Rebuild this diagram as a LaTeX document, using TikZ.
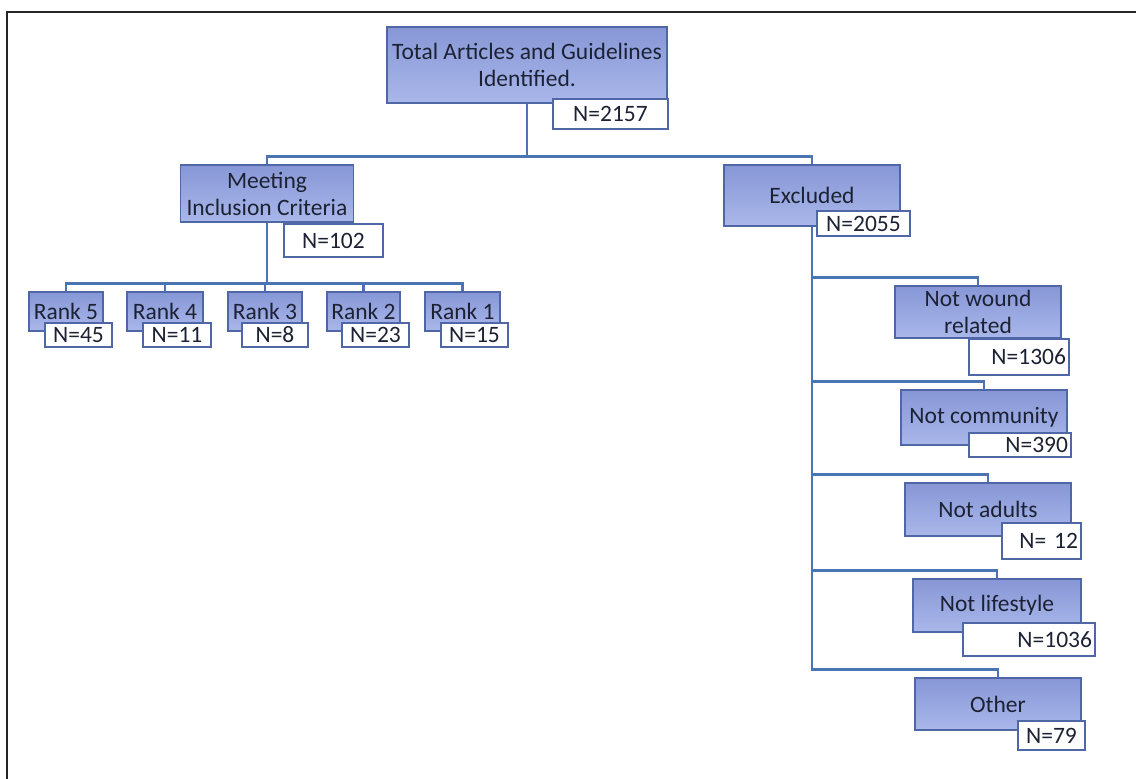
\documentclass[tikz,border=0pt]{standalone}
\usepackage{fontspec}
\setmainfont{Carlito}
\usetikzlibrary{backgrounds}
\definecolor{boxtop}{HTML}{8797D6}
\definecolor{boxbot}{HTML}{A9B7EA}
\definecolor{boxedge}{HTML}{4F67A6}
\definecolor{linkblue}{HTML}{4A74B4}
\definecolor{ink}{HTML}{1C2233}
\begin{document}
\begin{tikzpicture}[x=1pt,y=-1pt,
		stage/.style={draw=boxedge,line width=1.3pt,top color=boxtop,bottom color=boxbot,text=ink,align=center,inner sep=0pt},
		count/.style={draw=boxedge,line width=1.3pt,fill=white,text=ink,inner sep=3pt},
		link/.style={draw=linkblue,line width=2.3pt},
		font=\fontsize{23.5}{27}\selectfont]
		\useasboundingbox (0,0) rectangle (1136,779);
		\draw[line width=2.6pt,black!85] (7,779) -- (7,12) -- (1136,12);
		
		\node[stage,minimum width=280pt,minimum height=76pt] (total) at (527,65) {Total Articles and Guidelines\\Identified.};
		\node[count,minimum width=115pt,minimum height=30pt] (ntotal) at (610.5,114) {N=2157};
		
		\node[stage,minimum width=173pt,minimum height=57pt] (meet) at (267,193.5) {Meeting\\Inclusion Criteria};
		\node[count,minimum width=99pt,minimum height=33pt] (nmeet) at (333.5,240.5) {N=102};
		\node[stage,minimum width=176pt,minimum height=61pt] (excl) at (812,195.5) {Excluded};
		\node[count,minimum width=93pt,minimum height=25pt] (nexcl) at (863.5,223.5) {N=2055};
		
		\node[stage,minimum width=74pt,minimum height=39pt] (rank5) at (66,311.5) {Rank 5};
		\node[count,minimum width=67pt,minimum height=24pt] (nrank5) at (78.5,335) {N=45};
		\node[stage,minimum width=76pt,minimum height=39pt] (rank4) at (165,311.5) {Rank 4};
		\node[count,minimum width=68pt,minimum height=24pt] (nrank4) at (177,335) {N=11};
		\node[stage,minimum width=74pt,minimum height=39pt] (rank3) at (265,311.5) {Rank 3};
		\node[count,minimum width=66pt,minimum height=24pt] (nrank3) at (275,335) {N=8};
		\node[stage,minimum width=73pt,minimum height=39pt] (rank2) at (363.5,311.5) {Rank 2};
		\node[count,minimum width=67pt,minimum height=24pt] (nrank2) at (375.5,335) {N=23};
		\node[stage,minimum width=75pt,minimum height=39pt] (rank1) at (462.5,311.5) {Rank 1};
		\node[count,minimum width=67pt,minimum height=24pt] (nrank1) at (474.5,335) {N=15};
		
		\node[stage,minimum width=166pt,minimum height=52pt] (wound) at (978,312) {Not wound\\related};
		\node[count,text width=94pt,align=right,minimum height=36pt] (nwound) at (1019,357) {N=1306};
		\node[stage,minimum width=166pt,minimum height=55pt] (comm) at (984,417.5) {Not community};
		\node[count,text width=96pt,align=right,minimum height=24pt] (ncomm) at (1020,445) {N=390};
		\node[stage,minimum width=166pt,minimum height=53pt] (adults) at (988,509.5) {Not adults};
		\node[count,text width=73pt,align=right,minimum height=36pt] (nadults) at (1041.5,541) {N= 12};
		\node[stage,minimum width=168pt,minimum height=53pt] (life) at (997,605.5) {Not lifestyle};
		\node[count,text width=126pt,align=right,minimum height=33pt] (nlife) at (1029,639.5) {N=1036};
		\node[stage,minimum width=166pt,minimum height=52pt] (other) at (998,704) {Other};
		\node[count,minimum width=67pt,minimum height=29pt] (nother) at (1051.5,735.5) {N=79};
		
		\begin{scope}[on background layer]
			\foreach \kid in {meet,excl}
				\draw[link] (\kid.north) -- ++(0,-8) -| (total.south);
			\foreach \kid in {rank5,rank4,rank3,rank2,rank1}
				\draw[link] (\kid.north) -- ++(0,-8) -| (meet.south);
			\foreach \kid in {wound,comm,adults,life,other}
				\draw[link] (\kid.north) -- ++(0,-8) -| (excl.south);
		\end{scope}
	\end{tikzpicture}
\end{document}
